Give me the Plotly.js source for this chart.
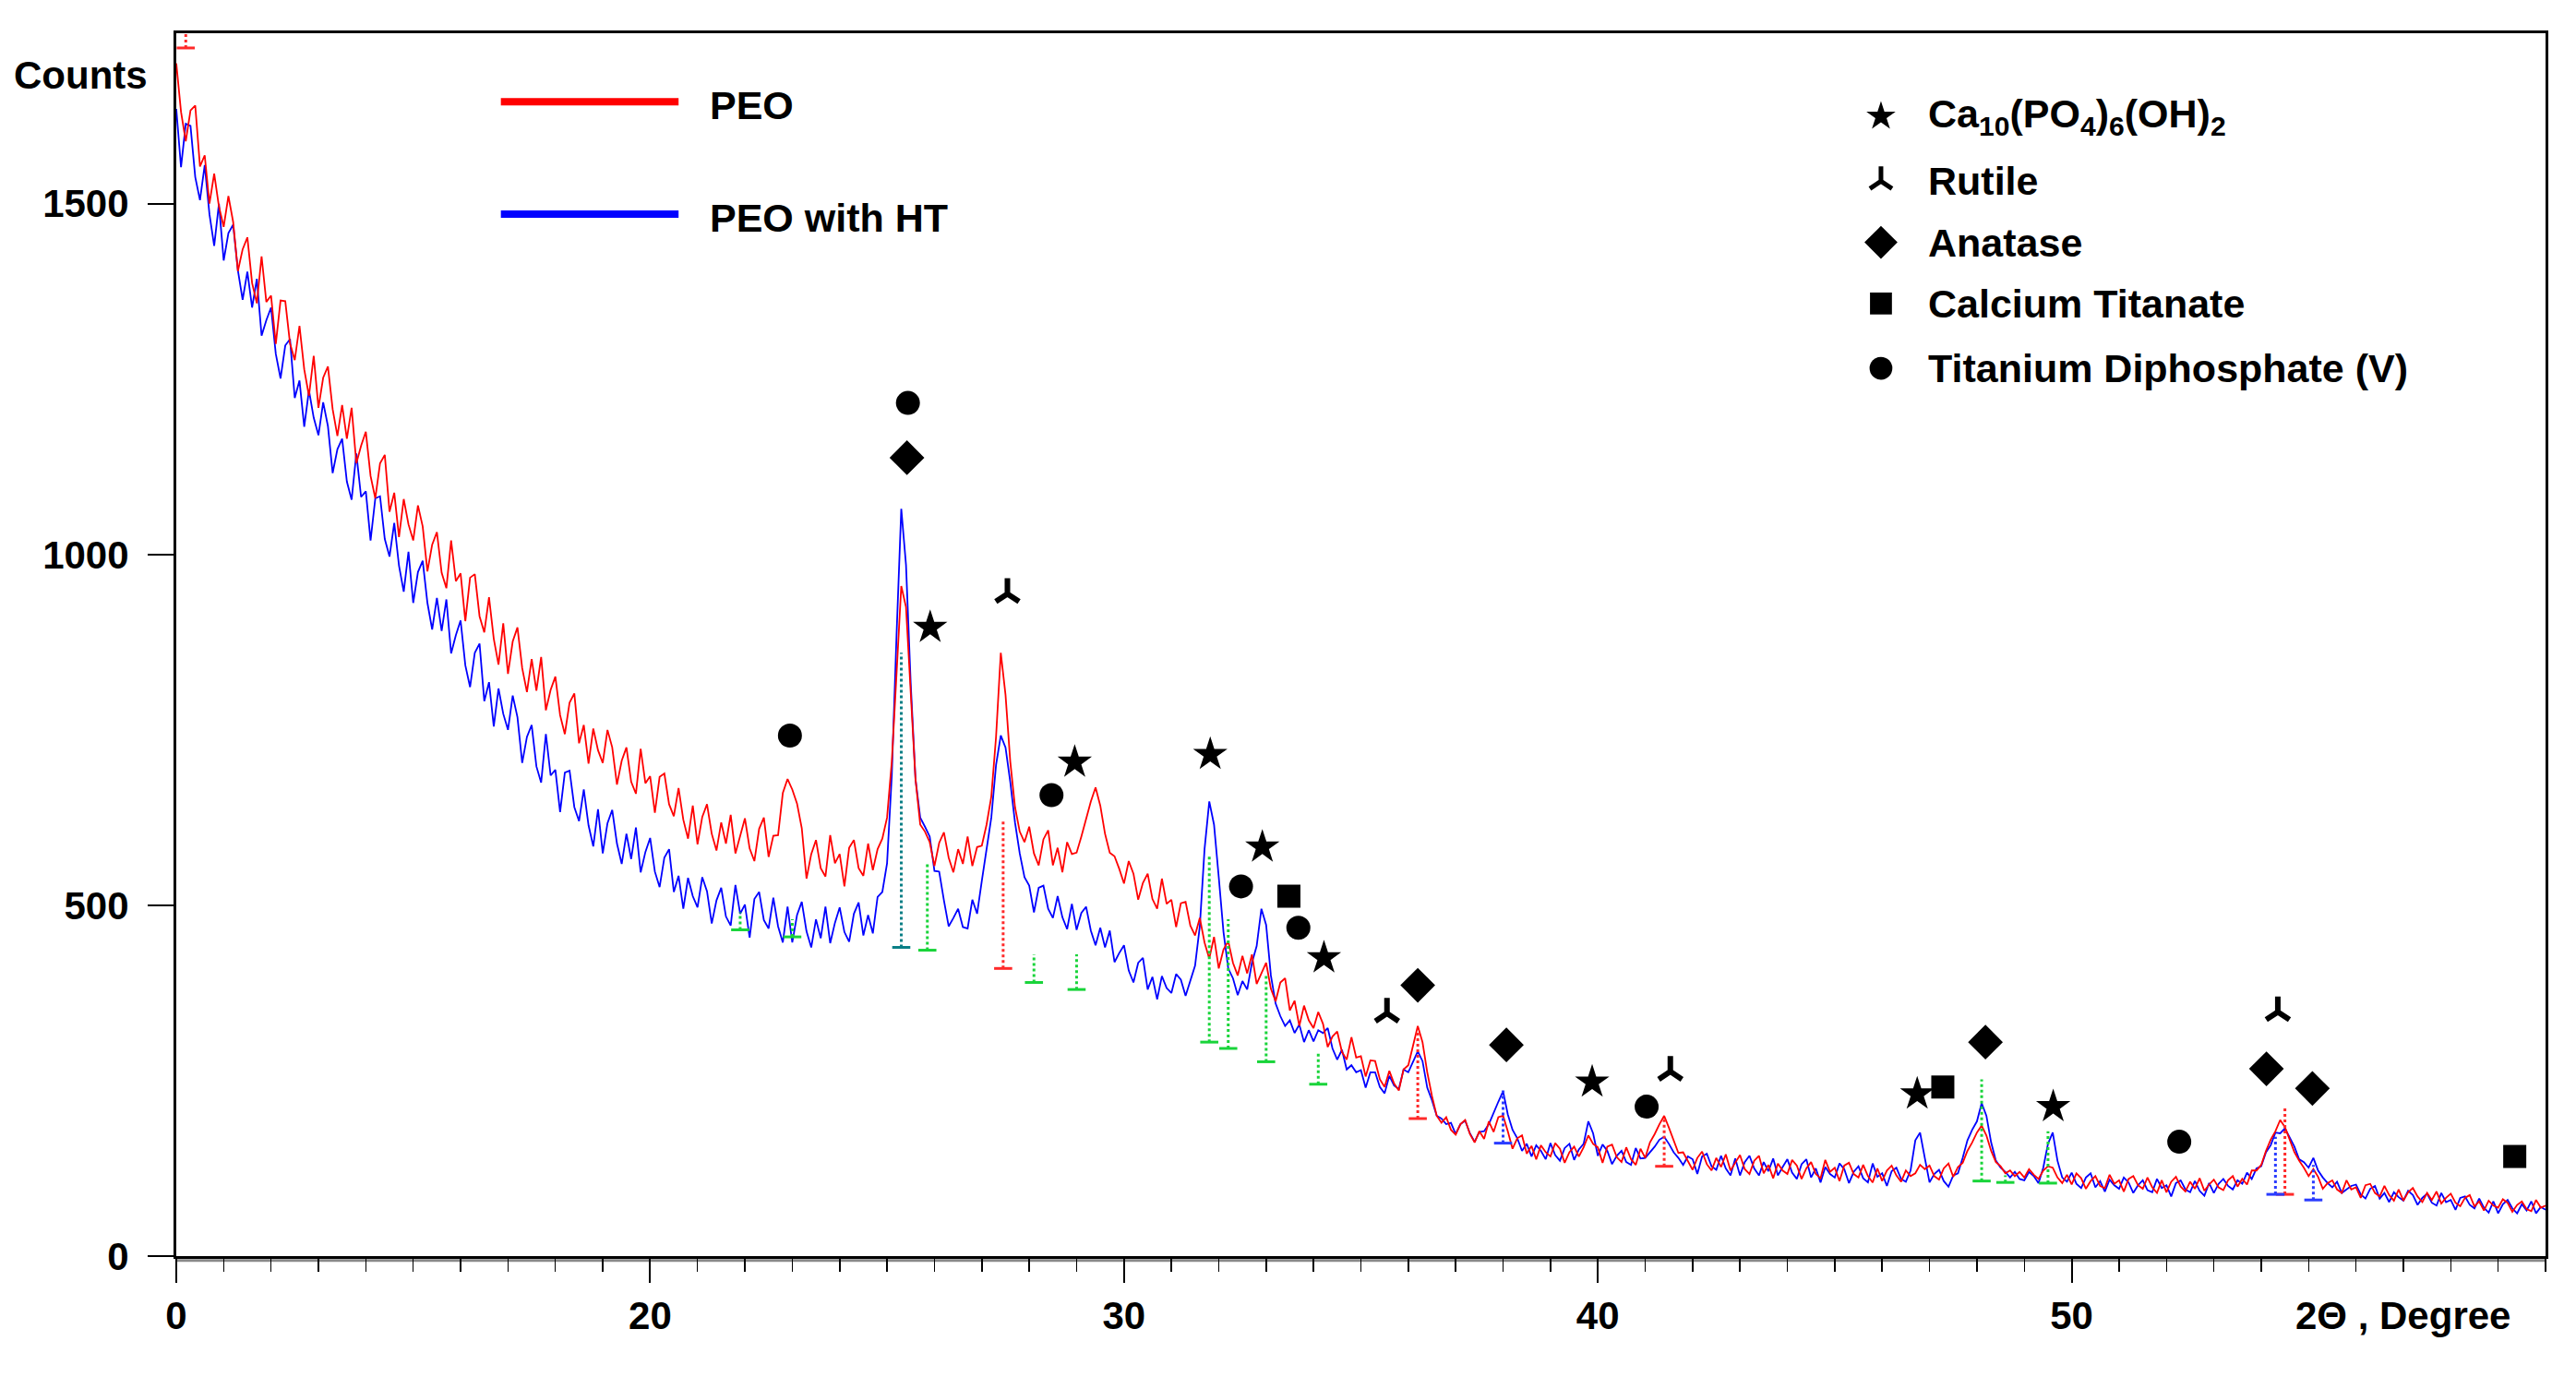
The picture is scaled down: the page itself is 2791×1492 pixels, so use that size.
<!DOCTYPE html>
<html>
<head>
<meta charset="utf-8">
<script src="https://cdn.plot.ly/plotly-3.0.1.min.js"></script>
<style>html,body{margin:0;padding:0;background:#fff;}#chart{width:2791px;height:1492px;}</style>
</head>
<body>
<div id="chart"></div>
<script>
// 2-theta sampling (degrees)
const twoThetaStart = 10;
const twoThetaStep = 0.1;

// Series: PEO (red), values every 0.1 degree from 10.0 to 60.0
const peoCounts = [
1700,1631,1589,1633,1640,1553,1569,1500,1543,1496,
1467,1511,1474,1404,1435,1452,1387,1358,1425,1360,
1369,1300,1362,1361,1301,1277,1326,1264,1226,1283,
1209,1252,1268,1207,1169,1213,1165,1209,1130,1155,
1175,1112,1080,1130,1142,1061,1088,1025,1079,1043,
1020,1070,1040,976,1014,1032,974,952,1020,962,
973,905,967,972,912,889,939,880,843,902,
830,876,896,838,804,851,806,854,778,807,
826,771,744,789,802,731,757,702,752,721,
703,750,725,672,706,725,676,659,723,674,
684,632,683,688,644,627,667,622,595,642,
587,626,644,602,578,618,588,629,574,601,
624,581,563,609,625,569,599,600,660,680,
665,645,610,538,573,593,553,541,600,560,
573,527,582,593,553,542,588,550,580,595,
625,705,825,955,925,800,680,615,605,590,
556,589,604,568,547,580,559,598,556,583,
585,615,655,740,860,800,705,640,605,590,
612,574,557,594,607,557,582,547,590,573,
575,598,622,648,668,642,602,575,570,552,
531,563,545,508,532,545,509,495,538,502,
508,469,503,505,471,457,482,447,424,455,
410,437,449,418,400,428,403,430,388,404,
418,381,363,390,396,350,364,328,357,336,
325,348,331,298,313,320,291,280,312,283,
285,256,279,278,252,241,264,246,236,266,
272,300,328,305,262,228,200,190,198,180,
173,188,194,174,162,178,167,192,177,198,
200,178,153,168,172,146,157,138,158,148,
142,161,153,133,148,156,142,155,172,160,
155,133,156,159,141,134,155,138,130,153,
140,162,174,188,200,183,166,147,148,136,
123,140,149,131,122,140,127,145,122,133,
144,124,117,136,143,118,130,111,132,122,
117,137,129,110,125,134,117,111,137,120,
126,107,129,133,117,112,130,114,105,125,
107,122,129,115,106,122,114,118,130,124,
129,114,109,125,132,113,127,133,150,162,
176,186,172,150,134,128,118,122,114,120,
112,124,116,110,122,128,126,112,104,116,
102,118,111,96,107,114,100,97,116,103,
108,92,110,114,101,96,112,98,90,108,
91,106,113,99,92,106,96,111,93,102,
109,98,94,108,114,99,110,102,122,122,
130,150,166,178,194,184,165,148,136,126,
114,124,113,96,104,108,95,90,108,95,
98,83,101,103,90,85,100,87,79,95,
79,91,97,85,77,90,80,92,75,83,
89,76,71,83,87,71,78,65,79,72,
69,81,76,63,73,78,67,64,80,69,
72];

// Series: PEO with HT (blue), same sampling
const peoHtCounts = [
1635,1552,1614,1611,1538,1505,1555,1485,1440,1500,
1419,1458,1470,1405,1363,1403,1352,1393,1312,1334,
1352,1286,1251,1298,1307,1223,1248,1182,1234,1195,
1170,1217,1183,1116,1150,1165,1104,1078,1144,1082,
1090,1020,1080,1083,1022,997,1045,984,947,1004,
931,975,991,931,893,938,891,936,859,885,
906,842,811,860,873,791,818,755,809,773,
750,799,768,703,740,757,698,675,744,685,
693,633,689,692,640,620,665,614,584,637,
574,617,636,588,559,602,566,611,547,576,
596,548,526,568,580,519,542,495,539,513,
497,540,520,474,507,525,484,471,529,488,
501,454,509,519,479,467,511,470,447,498,
447,486,505,463,440,480,453,498,446,475,
497,462,448,488,504,457,486,460,512,519,
560,685,885,1065,985,815,680,625,612,598,
549,548,507,470,482,495,469,467,508,488,
535,578,625,700,742,725,676,618,574,540,
528,490,525,528,495,482,513,483,466,502,
465,489,498,464,443,468,440,464,419,432,
443,407,390,418,425,380,398,366,399,382,
375,402,394,371,392,414,470,580,648,615,
540,462,410,396,372,392,380,418,442,495,
472,400,360,342,328,336,318,330,305,322,
306,322,318,325,296,280,294,266,272,262,
265,240,262,262,241,232,257,243,238,266,
262,277,292,278,240,222,200,196,188,190,
174,188,193,175,163,177,178,188,205,220,
235,202,180,168,150,160,142,158,150,138,
161,144,136,154,160,137,152,160,192,175,
143,159,150,131,143,150,134,130,154,139,
140,148,156,166,170,160,148,140,130,142,
138,117,142,146,128,123,143,125,115,139,
115,134,143,125,115,134,121,139,115,127,
138,119,110,131,138,112,125,105,127,117,
112,132,124,104,120,128,111,105,132,113,
118,100,121,126,110,106,122,165,176,140,
105,117,123,107,99,115,118,140,165,180,
192,218,200,162,136,126,120,112,120,110,
108,120,114,104,126,160,176,136,112,106,
119,103,97,112,118,98,107,92,109,101,
96,112,105,90,101,108,94,91,110,97,
101,85,104,108,95,91,107,93,86,104,
90,103,110,100,95,108,103,119,110,125,
128,148,158,176,175,182,168,156,138,134,
126,140,122,112,104,98,106,90,95,100,
102,88,82,96,100,82,90,77,91,84,
79,93,87,73,83,89,76,72,90,77,
80,66,83,85,73,68,82,69,62,78,
61,74,80,68,61,74,65,78,61,70,
66];

// Reference pattern sticks
const stickTheta  = [10.2, 21.9, 23.0, 25.3, 25.85, 27.45, 28.1, 29.0, 31.8, 32.2, 33.0, 34.1, 36.2, 38.0, 41.4, 48.1, 48.6, 49.5, 54.3, 54.5, 55.1];
const stickBottom = [1722, 465, 455, 440, 436, 410, 390, 380, 305, 296, 277, 245, 196, 161, 128, 107, 105, 104, 88, 88, 80];
const stickTop    = [1743, 490, 480, 860, 560, 620, 430, 430, 570, 480, 400, 290, 323, 239, 196, 252, 115, 178, 170, 214, 130];
const stickPhase  = ['red','green','green','teal','green','red','green','green','green','green','green','green','red','blue','red','green','green','green','blue','red','blue'];

// Phase identification markers
const hapTheta = [25.91, 28.96, 31.82, 32.92, 34.22, 39.88, 46.74, 49.61];
const hapCounts = [896, 704, 715, 583, 425, 248, 231, 213];
const rutileTheta = [27.54, 35.55, 41.53, 54.35];
const rutileCounts = [944, 346, 263, 348];
const anataseTheta = [25.42, 36.2, 38.07, 48.18, 54.11, 55.08];
const anataseCounts = [1138, 386, 301, 305, 267, 239];
const calTiTheta = [33.48, 47.28, 59.35];
const calTiCounts = [513, 241, 142];
const tiDiphTheta = [22.95, 25.44, 28.47, 32.47, 33.68, 41.03, 52.27];
const tiDiphCounts = [742, 1216, 657, 527, 468, 213, 163];

// Axis ticks
const xTickVals = [10, 20, 30, 40, 50];
const xTickText = ['0', '20', '30', '40', '50'];
const yTickVals = [0, 500, 1000, 1500];

// Legend labels
const seriesNames = ['PEO', 'PEO with HT'];
const phaseNames = ['Ca<sub>10</sub>(PO<sub>4</sub>)<sub>6</sub>(OH)<sub>2</sub>', 'Rutile', 'Anatase', 'Calcium Titanate', 'Titanium Diphosphate (V)'];

const twoTheta = peoCounts.map((_, i) => +(twoThetaStart + i * twoThetaStep).toFixed(2));

const FONT = 'Liberation Sans, Arial, Helvetica, sans-serif';
const stickColors = {red: '#ff2a2a', green: '#19d43a', teal: '#0a7f86', blue: '#2a3cff'};

const traces = [];
traces.push({x: twoTheta, y: peoHtCounts, type: 'scatter', mode: 'lines', line: {color: '#0000ff', width: 1.8}, hoverinfo: 'skip'});
traces.push({x: twoTheta, y: peoCounts, type: 'scatter', mode: 'lines', line: {color: '#ff0000', width: 1.8}, hoverinfo: 'skip'});

Object.keys(stickColors).forEach(ph => {
  const xs = [], ys = [], cx = [], cy = [];
  stickTheta.forEach((t, i) => {
    if (stickPhase[i] !== ph) return;
    xs.push(t, t, null); ys.push(stickBottom[i], stickTop[i], null);
    cx.push(t); cy.push(stickBottom[i]);
  });
  traces.push({x: xs, y: ys, type: 'scatter', mode: 'lines', line: {color: stickColors[ph], width: 3, dash: 'dot'}, hoverinfo: 'skip'});
  traces.push({x: cx, y: cy, type: 'scatter', mode: 'markers', marker: {symbol: 'line-ew', size: 14, line: {color: stickColors[ph], width: 3}}, hoverinfo: 'skip'});
});

const markerDefs = [
  {x: hapTheta, y: hapCounts, symbol: 'star', size: 28},
  {x: rutileTheta, y: rutileCounts, symbol: 'y-up', size: 21},
  {x: anataseTheta, y: anataseCounts, symbol: 'diamond', size: 29},
  {x: calTiTheta, y: calTiCounts, symbol: 'square', size: 25},
  {x: tiDiphTheta, y: tiDiphCounts, symbol: 'circle', size: 26}
];
markerDefs.forEach(d => {
  const isLine = d.symbol === 'y-up';
  traces.push({x: d.x, y: d.y, type: 'scatter', mode: 'markers', cliponaxis: false,
    marker: {symbol: d.symbol, size: d.size, color: '#000', line: {color: '#000', width: isLine ? 6 : 0}}, hoverinfo: 'skip'});
});

// Legend symbols on an overlay axis (paper-like coordinates)
const legSymX = 0.7195, legTextX = 0.7386;
const legY = [0.932, 0.879, 0.829, 0.779, 0.726];
markerDefs.forEach((d, i) => {
  const isLine = d.symbol === 'y-up';
  traces.push({x: [legSymX], y: [legY[i]], xaxis: 'x2', yaxis: 'y2', type: 'scatter', mode: 'markers',
    marker: {symbol: d.symbol, size: d.size * (d.symbol === 'star' ? 0.85 : 0.95), color: '#000', line: {color: '#000', width: isLine ? 5 : 0}}, hoverinfo: 'skip'});
});

const annotations = [];
const boldFont = (s) => ({family: FONT, size: s, color: '#000', weight: 700});
phaseNames.forEach((n, i) => annotations.push({xref: 'paper', yref: 'paper', x: legTextX, y: legY[i], xanchor: 'left', yanchor: 'middle', text: n, showarrow: false, font: boldFont(43)}));
const seriesLegY = [0.941, 0.849];
const seriesColors = ['#ff0000', '#0000ff'];
const shapes = [];
seriesNames.forEach((n, i) => {
  annotations.push({xref: 'paper', yref: 'paper', x: 0.2244, y: seriesLegY[i], xanchor: 'left', yanchor: 'middle', text: n, showarrow: false, font: boldFont(43)});
  shapes.push({type: 'line', xref: 'paper', yref: 'paper', x0: 0.137, x1: 0.212, y0: seriesLegY[i] + 0.003, y1: seriesLegY[i] + 0.003, line: {color: seriesColors[i], width: 8}});
});
annotations.push({xref: 'paper', yref: 'paper', x: -0.0693, y: 0.966, xanchor: 'left', yanchor: 'middle', text: 'Counts', showarrow: false, font: boldFont(42)});
annotations.push({xref: 'paper', yref: 'paper', x: 0.940, y: -0.049, xanchor: 'center', yanchor: 'middle', text: '2Θ , Degree', showarrow: false, font: boldFont(42)});
shapes.push({type: 'line', xref: 'paper', yref: 'paper', x0: 0, x1: 1, y0: -0.0035, y1: -0.0035, line: {color: '#8a8a8a', width: 3}, layer: 'below'});

const layout = {
  width: 2791, height: 1492,
  margin: {l: 191, r: 33, t: 36, b: 131},
  paper_bgcolor: '#fff', plot_bgcolor: '#fff',
  showlegend: false,
  font: {family: FONT, color: '#000'},
  xaxis: {
    range: [10, 60], tickmode: 'array', tickvals: xTickVals, ticktext: xTickText,
    ticks: 'outside', ticklen: 26, tickwidth: 2, tickcolor: '#000',
    showline: true, linecolor: '#000', linewidth: 3, mirror: true,
    showgrid: false, zeroline: false, tickfont: boldFont(42),
    minor: {tickmode: 'linear', tick0: 10, dtick: 1, ticks: 'outside', ticklen: 14, tickwidth: 1.5, tickcolor: '#000', showgrid: false}
  },
  yaxis: {
    range: [0, 1743], tickmode: 'array', tickvals: yTickVals,
    ticks: 'outside', ticklen: 28, tickwidth: 2, tickcolor: '#000',
    showline: true, linecolor: '#000', linewidth: 3, mirror: true,
    showgrid: false, zeroline: false, tickfont: boldFont(42), ticklabelstandoff: 12
  },
  xaxis2: {overlaying: 'x', range: [0, 1], visible: false, fixedrange: true},
  yaxis2: {overlaying: 'y', range: [0, 1], visible: false, fixedrange: true},
  annotations: annotations,
  shapes: shapes
};

Plotly.newPlot('chart', traces, layout, {staticPlot: true, displayModeBar: false});
</script>
</body>
</html>
